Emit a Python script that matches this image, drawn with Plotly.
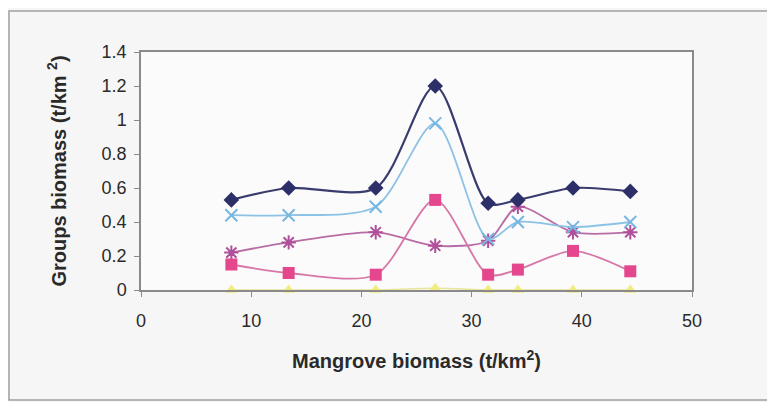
import plotly.graph_objects as go

mangrove_biomass = [8.2, 13.4, 21.3, 26.7, 31.5, 34.2, 39.2, 44.4]
series_diamond = [0.53, 0.60, 0.60, 1.20, 0.51, 0.53, 0.60, 0.58]
series_square = [0.15, 0.10, 0.09, 0.53, 0.09, 0.12, 0.23, 0.11]
series_triangle = [0.0, 0.0, 0.0, 0.01, 0.0, 0.0, 0.0, 0.0]
series_x = [0.44, 0.44, 0.49, 0.98, 0.30, 0.40, 0.37, 0.40]
series_star = [0.22, 0.28, 0.34, 0.26, 0.29, 0.49, 0.34, 0.34]

x_ticks = [0, 10, 20, 30, 40, 50]
y_ticks = [0, 0.2, 0.4, 0.6, 0.8, 1, 1.2, 1.4]
y_tick_labels = ["0", "0.2", "0.4", "0.6", "0.8", "1", "1.2", "1.4"]

fig = go.Figure()

def add(y, color, linecolor, symbol, size, width, mline=0):
    fig.add_trace(go.Scatter(
        x=mangrove_biomass, y=y, mode="lines+markers",
        line=dict(color=linecolor, width=width, shape="spline", smoothing=0.8),
        marker=dict(color=color, symbol=symbol, size=size,
                    line=dict(color=color, width=mline)),
        cliponaxis=False, showlegend=False))

add(series_triangle, "#f0ec80", "#e8e49a", "triangle-up", 11, 1.5)
add(series_star, "#b0509a", "#b86ca6", "asterisk-open", 12, 1.8, 2)
add(series_square, "#e5478e", "#d777a8", "square", 12, 1.8)
add(series_x, "#78b6e2", "#8cc2e6", "x-thin-open", 12, 1.8, 2)
add(series_diamond, "#2d2f68", "#3a3b6e", "diamond", 12, 2.2)

axis_font = dict(family="Liberation Sans, Arial, sans-serif", size=18, color="#2a2a2a")
title_font = dict(family="Liberation Sans, Arial, sans-serif", size=20, color="#2a2a2a")

# page body adds an 8px offset, so the figure is sized to fit the window
fig.update_layout(
    width=767, height=394,
    margin=dict(l=133, r=83, t=44, b=112),
    paper_bgcolor="#f7f6f6",
    plot_bgcolor="#fbfbfb",
    xaxis=dict(
        range=[0, 50], tickvals=x_ticks, ticktext=[str(v) for v in x_ticks],
        showgrid=False, zeroline=False, showline=True, mirror=True,
        linecolor="#8a8a8a", linewidth=1.5, ticks="outside", ticklen=5,
        tickcolor="#8a8a8a", tickfont=axis_font, ticklabelstandoff=9,
        title=dict(text="<b>Mangrove biomass (t/km<sup>2</sup>)</b>",
                   font=title_font, standoff=24),
    ),
    yaxis=dict(
        range=[0, 1.4], tickvals=y_ticks, ticktext=y_tick_labels,
        showgrid=False, zeroline=False, showline=True, mirror=True,
        linecolor="#8a8a8a", linewidth=1.5, ticks="outside", ticklen=5,
        tickcolor="#8a8a8a", tickfont=axis_font, ticklabelstandoff=4,
        title=dict(text="<b>Groups biomass (t/km <sup>2</sup>)</b>",
                   font=title_font, standoff=30),
    ),
    shapes=[dict(type="rect", xref="paper", yref="paper",
                 x0=-0.2396, x1=1.2, y0=-0.462, y1=1.172,
                 line=dict(color="#a0a0a0", width=1.5), layer="below")],
)

fig.write_html("out.html")
